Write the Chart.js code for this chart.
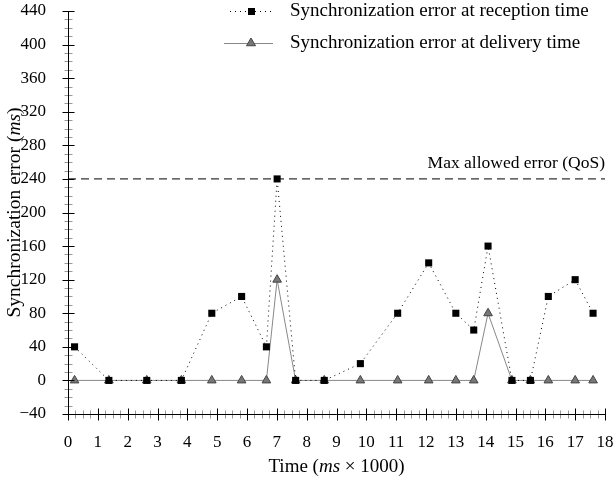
<!DOCTYPE html>
<html>
<head>
<meta charset="utf-8">
<script src="https://cdn.jsdelivr.net/npm/chart.js@4/dist/chart.umd.min.js"></script>
<style>
  body { margin: 0; background: #fff; }
  #wrap { width: 614px; height: 481px; }
</style>
</head>
<body>
<div id="wrap"><canvas id="syncChart" width="614" height="481"></canvas></div>
<script>
// time of each sample (ms x 1000)
const times = [0.22, 1.37, 2.64, 3.80, 4.82, 5.82, 6.65, 7.01, 7.63, 8.59, 9.80, 11.05, 12.09, 13.00, 13.60, 14.08, 14.88, 15.50, 16.10, 17.00, 17.60];
// sync error at reception time (ms)
const receptionErr = [40, 0, 0, 0, 80, 100, 40, 240, 0, 0, 20, 80, 140, 80, 60, 160, 0, 0, 100, 120, 80];
// sync error at delivery time (ms)
const deliveryErr = [0, 0, 0, 0, 0, 0, 0, 120, 0, 0, 0, 0, 0, 0, 0, 80, 0, 0, 0, 0, 0];
const qosLimit = 240;
const xMin = 0, xMax = 18, xStep = 1, xMinor = 0.25;
const yMin = -40, yMax = 440, yStep = 40, yMinor = 10;

const FONT = "'Liberation Serif', 'DejaVu Serif', serif";
const FS = 17;

function toPoints(ys) {
  return times.map((t, i) => ({ x: t, y: ys[i] }));
}

// draw text with some italic parts, pieces = [[text, italic], ...]
function mixedText(ctx, pieces, x, y, align, size) {
  let total = 0;
  pieces.forEach(p => {
    ctx.font = (p[1] ? 'italic ' : '') + size + 'px ' + FONT;
    total += ctx.measureText(p[0]).width;
  });
  let cx = align === 'center' ? x - total / 2 : (align === 'right' ? x - total : x);
  ctx.textAlign = 'left';
  pieces.forEach(p => {
    ctx.font = (p[1] ? 'italic ' : '') + size + 'px ' + FONT;
    ctx.fillText(p[0], cx, y);
    cx += ctx.measureText(p[0]).width;
  });
}

function square(ctx, x, y, s) {
  ctx.fillStyle = '#000';
  ctx.fillRect(x - s / 2, y - s / 2, s, s);
}
function triangle(ctx, x, y, r) {
  ctx.beginPath();
  ctx.moveTo(x, y - r);
  ctx.lineTo(x + r * 0.9, y + r * 0.55);
  ctx.lineTo(x - r * 0.9, y + r * 0.55);
  ctx.closePath();
  ctx.fillStyle = '#777';
  ctx.fill();
  ctx.strokeStyle = '#444';
  ctx.lineWidth = 1;
  ctx.stroke();
}

const decor = {
  id: 'decor',
  afterDraw(chart) {
    const { ctx, chartArea: ca, scales: { x, y } } = chart;
    ctx.save();
    const ax = Math.round(ca.left) + 0.5;
    const ay = Math.round(ca.bottom) + 0.5;

    // minor ticks
    ctx.strokeStyle = '#999';
    ctx.lineWidth = 1;
    ctx.beginPath();
    for (let v = yMin; v <= yMax + 1e-9; v += yMinor) {
      if (Math.abs(v % yStep) < 1e-9) continue;
      const py = Math.round(y.getPixelForValue(v)) + 0.5;
      ctx.moveTo(ax - 4, py); ctx.lineTo(ax + 4, py);
    }
    for (let v = xMin; v <= xMax + 1e-9; v += xMinor) {
      if (Math.abs(v - Math.round(v)) < 1e-9) continue;
      const px = Math.round(x.getPixelForValue(v)) + 0.5;
      ctx.moveTo(px, ay - 4); ctx.lineTo(px, ay + 4);
    }
    ctx.stroke();

    // major ticks + axis lines
    ctx.strokeStyle = '#000';
    ctx.beginPath();
    for (let v = yMin; v <= yMax; v += yStep) {
      const py = Math.round(y.getPixelForValue(v)) + 0.5;
      ctx.moveTo(ax - 6, py); ctx.lineTo(ax + 6, py);
    }
    for (let v = xMin; v <= xMax; v += xStep) {
      const px = Math.round(x.getPixelForValue(v)) + 0.5;
      ctx.moveTo(px, ay - 6); ctx.lineTo(px, ay + 6);
    }
    ctx.moveTo(ax, ca.top); ctx.lineTo(ax, ay);
    ctx.moveTo(ax, ay); ctx.lineTo(ca.right, ay);
    ctx.stroke();

    // titles
    ctx.fillStyle = '#000';
    ctx.textBaseline = 'middle';
    mixedText(ctx, [['Time (', false], ['ms', true], [' \u00d7 1000)', false]], (ca.left + ca.right) / 2, 467, 'center', 19);
    ctx.save();
    ctx.translate(15, (ca.top + ca.bottom) / 2);
    ctx.rotate(-Math.PI / 2);
    mixedText(ctx, [['Synchronization error (', false], ['ms', true], [')', false]], 0, 0, 'center', 19.5);
    ctx.restore();

    // qos label
    ctx.font = '17.5px ' + FONT;
    ctx.textAlign = 'right';
    ctx.fillText('Max allowed error (QoS)', ca.right, y.getPixelForValue(qosLimit) - 16);

    // legend
    ctx.font = '19px ' + FONT;
    ctx.textAlign = 'left';
    ctx.strokeStyle = '#000';
    ctx.setLineDash([1, 4]);
    ctx.beginPath();
    ctx.moveTo(230, 11.5); ctx.lineTo(273, 11.5);
    ctx.stroke();
    ctx.setLineDash([]);
    square(ctx, 251.5, 11.5, 7);
    ctx.fillStyle = '#000';
    ctx.fillText('Synchronization error at reception time', 290, 11);

    ctx.strokeStyle = '#888';
    ctx.beginPath();
    ctx.moveTo(224, 43.5); ctx.lineTo(273, 43.5);
    ctx.stroke();
    triangle(ctx, 251, 43, 5);
    ctx.fillStyle = '#000';
    ctx.fillText('Synchronization error at delivery time', 290, 43);
    ctx.restore();
  }
};

new Chart(document.getElementById('syncChart'), {
  type: 'line',
  data: {
    datasets: [
      {
        label: 'Synchronization error at reception time',
        data: toPoints(receptionErr),
        borderColor: '#000',
        borderWidth: 1,
        borderDash: [1, 4],
        pointStyle: 'rect',
        pointRadius: 5,
        pointBackgroundColor: '#000',
        pointBorderColor: '#000',
        pointBorderWidth: 0,
        tension: 0,
        order: 0
      },
      {
        label: 'Synchronization error at delivery time',
        data: toPoints(deliveryErr),
        borderColor: '#888',
        borderWidth: 1,
        pointStyle: 'triangle',
        pointRadius: 5,
        pointBackgroundColor: '#777',
        pointBorderColor: '#444',
        pointBorderWidth: 1,
        tension: 0,
        order: 1
      },
      {
        label: 'Max allowed error (QoS)',
        data: [{ x: xMin, y: qosLimit }, { x: xMax, y: qosLimit }],
        borderColor: '#000',
        borderWidth: 1,
        borderDash: [8, 5],
        pointRadius: 0,
        order: 2
      }
    ]
  },
  options: {
    responsive: false,
    animation: false,
    layout: { padding: { top: 11, right: 9, left: 0, bottom: 0 } },
    plugins: { legend: { display: false }, tooltip: { enabled: false } },
    scales: {
      x: {
        type: 'linear',
        min: xMin, max: xMax,
        grid: { display: false },
        border: { display: false },
        afterFit: s => { s.height = 67; s.paddingLeft = 0; s.paddingRight = 0; },
        ticks: { stepSize: xStep, color: '#000', padding: 10, font: { family: FONT, size: FS } }
      },
      y: {
        min: yMin, max: yMax,
        grid: { display: false },
        border: { display: false },
        afterFit: s => { s.width = 68; s.paddingTop = 0; s.paddingBottom = 0; },
        ticks: { stepSize: yStep, color: '#000', padding: 14, font: { family: FONT, size: FS },
          callback: v => (v < 0 ? '\u2212' + Math.abs(v) : v) }
      }
    }
  },
  plugins: [decor]
});
</script>
</body>
</html>
